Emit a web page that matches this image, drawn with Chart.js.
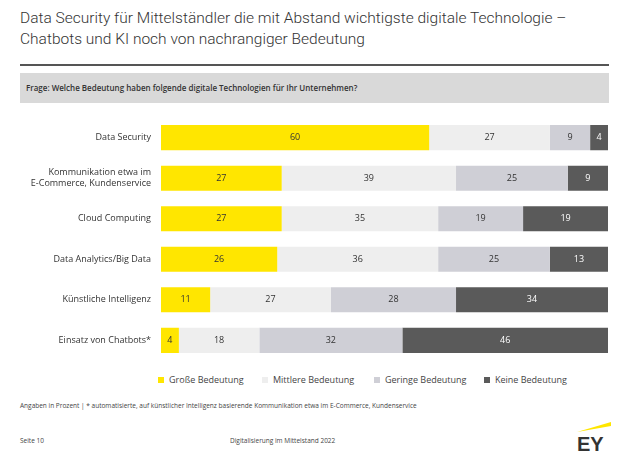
<!DOCTYPE html>
<html><head><meta charset="utf-8">
<script src="https://cdn.jsdelivr.net/npm/chart.js@4"></script>
<style>
body{margin:0;width:630px;height:453px;background:#fff;font-family:"Open Sans",sans-serif;color:#333;position:relative;overflow:hidden}
.t{position:absolute;left:20px;top:8px;font-size:15.5px;line-height:21px;color:#333;font-family:Roboto,sans-serif;font-weight:300}
.rule{position:absolute;left:20px;top:64px;width:589px;height:2px;background:#555}
.q{position:absolute;left:20px;top:73px;width:589px;height:30px;background:#d9d9d9;font-size:8px;font-weight:600;line-height:30px;text-indent:6px;color:#333}
#wrap{position:absolute;left:0;top:110px;width:630px;height:258px}
.leg{position:absolute;top:373px;font-size:9px;color:#444}
.leg i{display:inline-block;width:6px;height:6px;margin-right:5px}
.s{position:absolute;font-size:6.5px;color:#444}
</style></head><body>
<div class="t">Data Security für Mittelständler die mit Abstand wichtigste digitale Technologie –<br>Chatbots und KI noch von nachrangiger Bedeutung</div>
<div class="rule"></div>
<div class="q">Frage: Welche Bedeutung haben folgende digitale Technologien für Ihr Unternehmen?</div>
<div id="wrap"><canvas id="c"></canvas></div>
<div class="leg" style="left:158px"><i style="background:#ffe600"></i>Große Bedeutung</div>
<div class="leg" style="left:262px"><i style="background:#eeeeee"></i>Mittlere Bedeutung</div>
<div class="leg" style="left:374px"><i style="background:#cfcfd6"></i>Geringe Bedeutung</div>
<div class="leg" style="left:484px"><i style="background:#5a5a5a"></i>Keine Bedeutung</div>
<div class="s" style="left:20px;top:401px">Angaben in Prozent | * automatisierte, auf künstlicher Intelligenz basierende Kommunikation etwa im E-Commerce, Kundenservice</div>
<div class="s" style="left:20px;top:436px">Seite 10</div>
<div class="s" style="left:230px;top:436px">Digitalisierung im Mittelstand 2022</div>
<svg style="position:absolute;left:577px;top:422px" width="36" height="30"><polygon points="0,10 34,0 34,4" fill="#ffe600"/><text x="0" y="29" font-family="Liberation Sans" font-weight="bold" font-size="20" fill="#333">EY</text></svg>
<script>
const categories = [['Data Security'], ['Kommunikation etwa im', 'E-Commerce, Kundenservice'], ['Cloud Computing'], ['Data Analytics/Big Data'], ['Künstliche Intelligenz'], ['Einsatz von Chatbots*']];
const gross = [60, 27, 27, 26, 11, 4];
const mittel = [27, 39, 35, 36, 27, 18];
const gering = [9, 25, 19, 25, 28, 32];
const keine = [4, 9, 19, 13, 34, 46];

const labelPlugin = {
  id: 'vals',
  afterDatasetsDraw(chart) {
    const ctx = chart.ctx;
    ctx.save();
    ctx.font = '9px "Open Sans"';
    ctx.textAlign = 'center';
    ctx.textBaseline = 'middle';
    chart.data.datasets.forEach((ds, i) => {
      chart.getDatasetMeta(i).data.forEach((bar, j) => {
        ctx.fillStyle = i === 3 ? '#fff' : '#333';
        ctx.fillText(ds.data[j], (bar.x + bar.base) / 2, bar.y);
      });
    });
    ctx.restore();
  }
};

const mk = (label, data, color) => ({ label, data, backgroundColor: color, barPercentage: 0.62, categoryPercentage: 1 });

new Chart(document.getElementById('c'), {
  type: 'bar',
  data: {
    labels: categories,
    datasets: [
      mk('Große Bedeutung', gross, '#ffe600'),
      mk('Mittlere Bedeutung', mittel, '#eeeeee'),
      mk('Geringe Bedeutung', gering, '#cfcfd6'),
      mk('Keine Bedeutung', keine, '#5a5a5a')
    ]
  },
  options: {
    indexAxis: 'y',
    responsive: true, maintainAspectRatio: false, animation: false,
    layout: { padding: { right: 22, top: 0, bottom: 0 } },
    plugins: { legend: { display: false }, tooltip: { enabled: false } },
    scales: {
      x: { stacked: true, min: 0, max: 100, display: false },
      y: {
        stacked: true,
        grid: { display: false }, border: { display: false },
        ticks: { color: '#333', font: { size: 9, family: 'Open Sans' }, padding: 2 },
        afterFit(s) { s.width = 161; }
      }
    }
  },
  plugins: [labelPlugin]
});
</script>
</body></html>
